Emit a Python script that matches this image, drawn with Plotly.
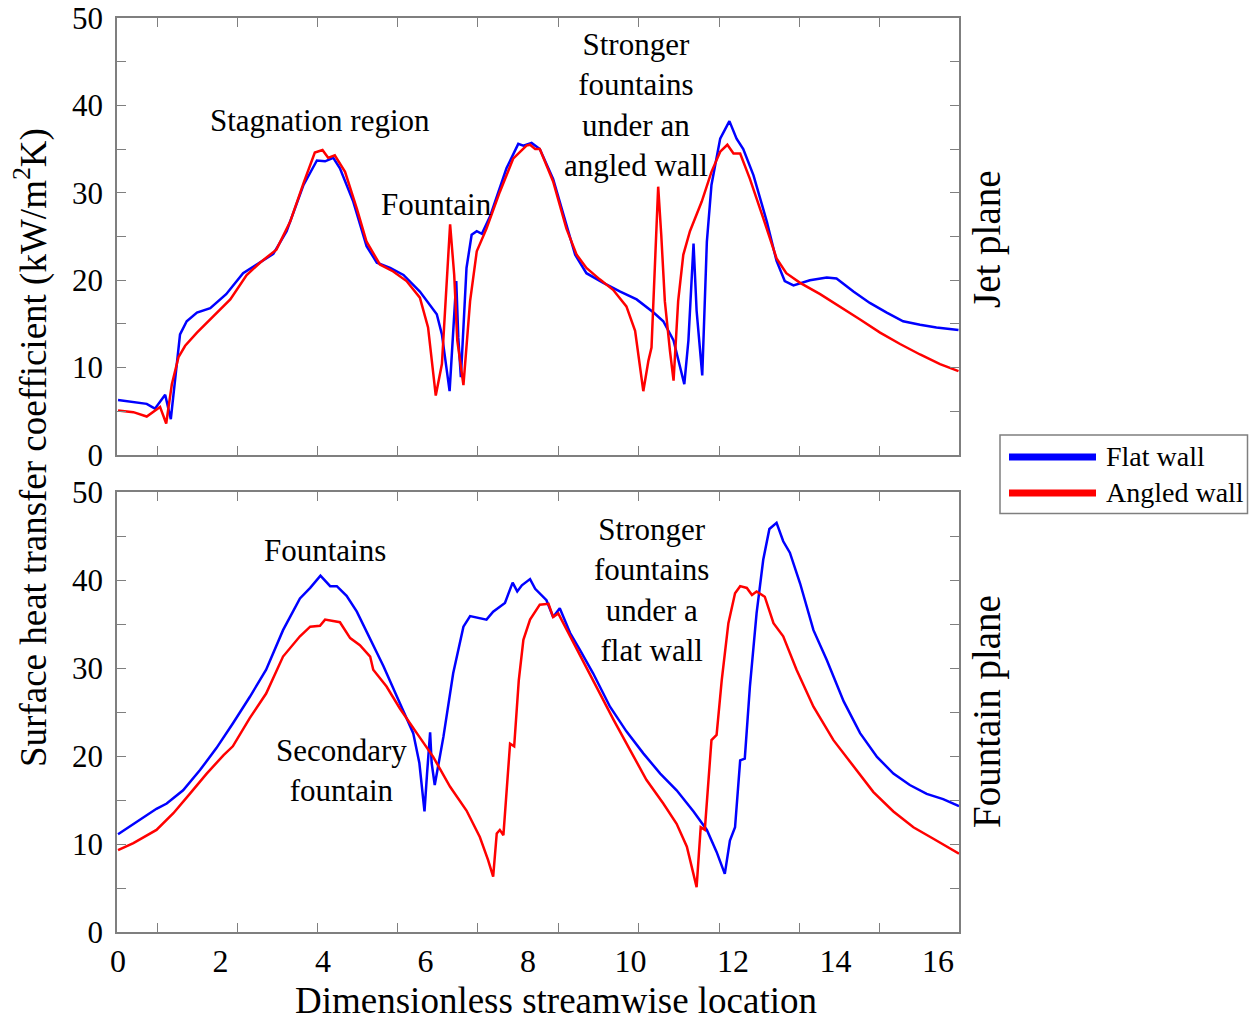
import plotly.graph_objects as go

# ---------------- data ----------------
# Jet plane (top panel)
jet_x_flat = [0.00, 0.30, 0.56, 0.72, 0.92, 1.03, 1.21, 1.34, 1.54, 1.80, 2.11, 2.44, 2.70, 3.03, 3.29,
              3.62, 3.88, 4.04, 4.20, 4.33, 4.59, 4.85, 5.05, 5.31, 5.57, 5.89, 6.22, 6.32, 6.47, 6.60,
              6.64, 6.69, 6.80, 6.90, 7.00, 7.10, 7.26, 7.58, 7.81, 7.91, 8.07, 8.23, 8.49, 8.69, 8.92,
              9.14, 9.47, 9.80, 10.12, 10.45, 10.64, 10.84, 11.05, 11.13, 11.23, 11.29, 11.40, 11.49,
              11.58, 11.75, 11.93, 12.07, 12.20, 12.40, 12.66, 12.85, 13.01, 13.18, 13.50, 13.83, 14.02,
              14.35, 14.67, 15.00, 15.32, 15.65, 15.97, 16.40]
jet_y_flat = [6.3, 6.1, 5.85, 5.3, 6.9, 4.1, 13.8, 15.3, 16.3, 16.8, 18.4, 20.8, 21.8, 23.0, 25.6,
              30.9, 33.7, 33.6, 34.0, 32.8, 29.0, 23.9, 22.0, 21.4, 20.6, 18.7, 16.1, 13.8, 7.3, 19.9,
              13.4, 8.9, 21.4, 25.2, 25.6, 25.3, 27.3, 32.8, 35.6, 35.4, 35.7, 35.0, 31.6, 27.5, 22.9,
              20.8, 19.7, 18.7, 17.8, 16.3, 15.3, 13.1, 8.1, 13.1, 24.2, 16.5, 9.1, 24.4,
              30.9, 36.2, 38.2, 36.2, 35.0, 32.0, 26.7, 22.2, 19.9, 19.4, 20.0, 20.3, 20.2,
              18.7, 17.4, 16.3, 15.3, 14.9, 14.6, 14.3]

jet_x_angled = [0.00, 0.30, 0.56, 0.82, 0.94, 1.05, 1.18, 1.31, 1.54, 1.86, 2.19, 2.51, 2.77, 3.09,
                3.36, 3.62, 3.84, 3.99, 4.10, 4.23, 4.43, 4.66, 4.85, 5.11, 5.37, 5.63, 5.89, 6.05,
                6.20, 6.32, 6.48, 6.56, 6.62, 6.74, 6.87, 7.00, 7.19, 7.45, 7.71, 7.97, 8.04, 8.14,
                8.23, 8.49, 8.75, 8.95, 9.14, 9.40, 9.66, 9.92, 10.09, 10.25, 10.35, 10.41, 10.54,
                10.60, 10.67, 10.77, 10.84, 10.93, 11.03, 11.16, 11.39, 11.58, 11.75, 11.89, 12.01,
                12.14, 12.33, 12.59, 12.85, 13.04, 13.31, 13.70, 14.09, 14.48, 14.87, 15.26, 15.65,
                16.04, 16.40]
jet_y_angled = [5.1, 4.9, 4.4, 5.5, 3.6, 8.1, 11.2, 12.5, 14.0, 15.9, 17.8, 20.6, 22.0, 23.5,
                26.7, 31.1, 34.6, 34.9, 34.0, 34.3, 32.4, 28.2, 24.4, 21.8, 21.0, 19.9, 18.0, 14.6,
                6.8, 10.4, 26.4, 20.6, 13.1, 8.0, 17.6, 23.3, 25.9, 30.1, 33.9, 35.4, 35.5, 35.0,
                35.0, 31.3, 25.9, 22.9, 21.4, 20.1, 18.9, 17.0, 14.2, 7.3, 10.8, 12.3, 30.7,
                25.2, 17.6, 11.9, 8.5, 17.6, 22.9, 25.6, 29.0, 32.4, 34.7, 35.5, 34.5,
                34.5, 31.6, 27.1, 22.5, 20.8, 19.7, 18.4, 17.0, 15.5, 14.0, 12.7, 11.5,
                10.4, 9.6]

# Fountain plane (bottom panel)
ftn_x_flat = [0.00, 0.30, 0.75, 0.95, 1.27, 1.60, 1.92, 2.24, 2.57, 2.89, 3.22, 3.55, 3.75, 3.95,
              4.14, 4.27, 4.46, 4.66, 4.85, 5.18, 5.50, 5.76, 5.88, 5.98, 6.03, 6.09, 6.12, 6.18,
              6.35, 6.54, 6.74, 6.87, 7.19, 7.32, 7.55, 7.70, 7.79, 7.88, 8.04, 8.14, 8.36, 8.49,
              8.62, 8.82, 9.01, 9.27, 9.60, 9.92, 10.25, 10.58, 10.90, 11.23, 11.49, 11.68, 11.84,
              11.94, 12.04, 12.14, 12.23, 12.33, 12.46, 12.59, 12.71, 12.85, 12.98, 13.11, 13.31,
              13.57, 13.83, 14.16, 14.48, 14.81, 15.13, 15.45, 15.78, 16.10, 16.41]
ftn_y_flat = [11.1, 12.3, 14.0, 14.6, 16.1, 18.4, 20.9, 23.7, 26.7, 29.8, 34.3, 37.9, 39.1, 40.5,
              39.3, 39.3, 38.2, 36.4, 34.1, 30.2, 26.0, 22.6, 19.2, 13.7, 18.0, 22.7, 19.2, 16.7,
              22.2, 29.4, 34.7, 35.9, 35.5, 36.4, 37.4, 39.7, 38.7, 39.4, 40.1, 39.0, 37.7, 35.8,
              36.8, 34.0, 32.1, 29.4, 25.6, 22.8, 20.3, 18.0, 16.1, 13.7, 11.6, 9.1, 6.6,
              10.4, 11.9, 19.5, 19.7, 27.9, 36.2, 42.3, 45.8, 46.5, 44.4, 43.1, 39.6,
              34.3, 30.9, 26.2, 22.6, 19.9, 18.0, 16.7, 15.7, 15.1, 14.3]

ftn_x_angled = [0.00, 0.30, 0.75, 1.08, 1.40, 1.73, 2.06, 2.24, 2.57, 2.89, 3.22, 3.55, 3.75, 3.94,
                4.04, 4.33, 4.53, 4.72, 4.92, 4.98, 5.24, 5.50, 5.83, 6.15, 6.48, 6.80, 7.06, 7.22,
                7.32, 7.39, 7.45, 7.52, 7.65, 7.73, 7.82, 7.91, 8.04, 8.23, 8.40, 8.49, 8.59, 8.82,
                9.08, 9.34, 9.67, 9.99, 10.31, 10.64, 10.90, 11.10, 11.29, 11.37, 11.45, 11.58,
                11.68, 11.78, 11.91, 12.04, 12.14, 12.27, 12.37, 12.46, 12.62, 12.79, 12.98, 13.24,
                13.57, 13.96, 14.35, 14.74, 15.13, 15.52, 15.91, 16.41]
ftn_y_angled = [9.3, 10.1, 11.6, 13.5, 15.7, 18.0, 20.1, 21.1, 24.3, 27.1, 31.3, 33.6, 34.7, 34.8,
                35.5, 35.2, 33.4, 32.6, 31.3, 29.8, 27.9, 25.4, 22.6, 19.9, 16.5, 13.8, 10.8, 8.2,
                6.3, 11.2, 11.6, 11.0, 21.4, 21.1, 28.6, 33.2, 35.5, 37.2, 37.3, 35.8, 36.2, 33.6,
                30.7, 27.9, 24.1, 20.7, 17.3, 14.6, 12.3, 9.7, 5.1, 11.9, 11.6, 21.8,
                22.4, 28.6, 35.1, 38.5, 39.3, 39.1, 38.3, 38.7, 38.1, 35.1, 33.6, 29.8,
                25.6, 21.8, 18.8, 15.9, 13.7, 11.9, 10.6, 8.9]

series_names = ["Flat wall", "Angled wall"]
series_colors = ["#0000FF", "#FF0000"]
x_tick_vals = [0, 2, 4, 6, 8, 10, 12, 14, 16]
x_mark_vals = [0.767, 2.335, 3.902, 5.457, 7.024, 8.591, 10.15, 11.73, 13.29, 14.85]
y_tick_vals = [0, 10, 20, 30, 40, 50]

FONT = "Liberation Serif, Times New Roman, serif"
AX = "#7f7f7f"

fig = go.Figure()
# top panel (jet plane)
fig.add_trace(go.Scatter(x=jet_x_flat, y=jet_y_flat, mode="lines", name=series_names[0],
                         line=dict(color=series_colors[0], width=2.5), xaxis="x2", yaxis="y2",
                         showlegend=False))
fig.add_trace(go.Scatter(x=jet_x_angled, y=jet_y_angled, mode="lines", name=series_names[1],
                         line=dict(color=series_colors[1], width=2.5), xaxis="x2", yaxis="y2",
                         showlegend=False))
# bottom panel (fountain plane)
fig.add_trace(go.Scatter(x=ftn_x_flat, y=ftn_y_flat, mode="lines", name=series_names[0],
                         line=dict(color=series_colors[0], width=2.5), xaxis="x", yaxis="y",
                         showlegend=False))
fig.add_trace(go.Scatter(x=ftn_x_angled, y=ftn_y_angled, mode="lines", name=series_names[1],
                         line=dict(color=series_colors[1], width=2.5), xaxis="x", yaxis="y",
                         showlegend=False))

TOP, BOT = 18, 932          # plot area top / bottom (px)
PH = BOT - TOP

XR = [-0.02, 16.41]
xcommon = dict(range=XR, showgrid=False, zeroline=False, showline=True, linecolor=AX, linewidth=1.5,
               mirror="ticks", ticks="", tickmode="array", tickvals=x_tick_vals, automargin=False,
               ticklabeloverflow="allow",
               minor=dict(tickmode="array", tickvals=x_mark_vals, ticks="inside", ticklen=9,
                          tickwidth=1.3, tickcolor=AX, showgrid=False),
               tickfont=dict(family=FONT, size=32, color="black"))
ycommon = dict(range=[0, 50], showgrid=False, zeroline=False, showline=True, linecolor=AX,
               linewidth=1.5, mirror="ticks", ticks="inside", ticklen=9, tickwidth=1.3,
               tickcolor=AX, tickmode="array", tickvals=y_tick_vals, automargin=False,
               ticklabeloverflow="allow",
               minor=dict(dtick=5, tick0=0, ticks="inside", ticklen=9, tickwidth=1.3,
                          tickcolor=AX, showgrid=False),
               tickfont=dict(family=FONT, size=31, color="black"), ticklabelstandoff=6)

fig.update_layout(
    template="none",
    width=1249, height=1020,
    margin=dict(l=117, r=290, t=TOP, b=1020 - BOT, autoexpand=False),
    paper_bgcolor="white", plot_bgcolor="white",
    font=dict(family=FONT, color="black"),
    showlegend=False,
    xaxis=dict(domain=[0, 1], anchor="y", showticklabels=True, **xcommon),
    yaxis=dict(domain=[0, (BOT - 492) / PH], anchor="x", **ycommon),
    xaxis2=dict(domain=[0, 1], anchor="y2", showticklabels=False, **xcommon),
    yaxis2=dict(domain=[(BOT - 455) / PH, 1.0], anchor="x2", **ycommon),
)

def px2paper_x(px):
    return (px - 117) / 842.0

def px2paper_y(py):
    return (BOT - py) / float(PH)

def note(x, y, xref, yref, text, size=31, **kw):
    d = dict(x=x, y=y, xref=xref, yref=yref, text=text, showarrow=False,
             xanchor="center", yanchor="middle", font=dict(family=FONT, size=size, color="black"))
    d.update(kw)
    return d

anns = []
# top panel notes
anns.append(note(3.94, 38.3, "x2", "y2", "Stagnation region"))
anns.append(note(6.22, 28.7, "x2", "y2", "Fountain"))
anns.append(note(10.11, 40.0, "x2", "y2", "Stronger<br>fountains<br>under an<br>angled wall"))
# bottom panel notes
anns.append(note(4.04, 43.4, "x", "y", "Fountains"))
anns.append(note(4.37, 18.4, "x", "y", "Secondary<br>fountain"))
anns.append(note(10.4, 38.9, "x", "y", "Stronger<br>fountains<br>under a<br>flat wall"))
# panel side labels
anns.append(note(px2paper_x(987), px2paper_y(239), "paper", "paper", "Jet plane", size=39, textangle=-90))
anns.append(note(px2paper_x(987), px2paper_y(712), "paper", "paper", "Fountain plane", size=39, textangle=-90))
# axis titles
anns.append(note(px2paper_x(31), px2paper_y(448), "paper", "paper",
                 "Surface heat transfer coefficient (kW/m<sup>2</sup>K)", size=37, textangle=-90))
anns.append(note(px2paper_x(556), px2paper_y(1000), "paper", "paper",
                 "Dimensionless streamwise location", size=37))
# legend texts
anns.append(note(px2paper_x(1104), px2paper_y(457), "paper", "paper", series_names[0], size=28, xanchor="left"))
anns.append(note(px2paper_x(1104), px2paper_y(493), "paper", "paper", series_names[1], size=28, xanchor="left"))

shapes = [
    dict(type="rect", xref="paper", yref="paper", x0=px2paper_x(1000), x1=px2paper_x(1247.5),
         y0=px2paper_y(513.5), y1=px2paper_y(435), line=dict(color=AX, width=1.5), fillcolor="white"),
    dict(type="line", xref="paper", yref="paper", x0=px2paper_x(1009), x1=px2paper_x(1096),
         y0=px2paper_y(457), y1=px2paper_y(457), line=dict(color=series_colors[0], width=7)),
    dict(type="line", xref="paper", yref="paper", x0=px2paper_x(1009), x1=px2paper_x(1096),
         y0=px2paper_y(493), y1=px2paper_y(493), line=dict(color=series_colors[1], width=7)),
]
fig.update_layout(annotations=anns, shapes=shapes)

fig.write_html("out.html")
